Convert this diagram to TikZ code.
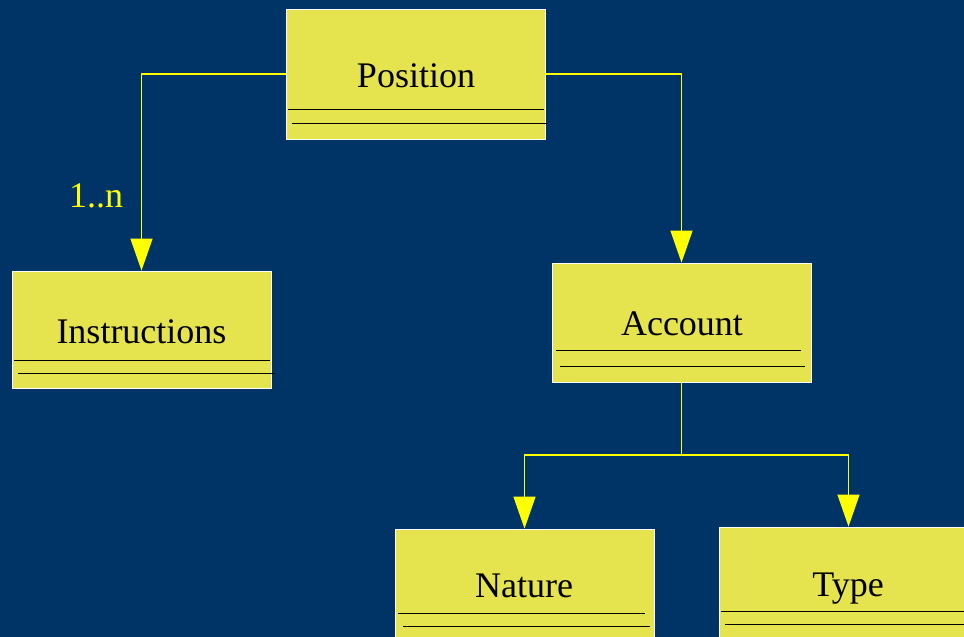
\documentclass[tikz,border=0pt]{standalone}
\usepackage{fontspec}
\newfontfamily\classfont{Liberation Serif}
\usetikzlibrary{arrows.meta}
\definecolor{navy}{RGB}{0,51,102}
\definecolor{classfill}{RGB}{230,228,78}
\definecolor{linkyellow}{RGB}{255,255,0}
\tikzset{
  classbox/.style={draw=white, line width=0.8pt, fill=classfill, minimum width=259pt, inner sep=0pt},
  classname/.style={anchor=base, inner sep=0pt, font=\classfont\fontsize{36}{40}\selectfont},
  sep/.style={black, line width=1pt},
  link/.style={linkyellow, line width=1.2pt, -{Triangle[width=22pt,length=32pt]}},
}

\begin{document}
\begin{tikzpicture}[x=1pt,y=-1pt]
    \useasboundingbox (0,0) rectangle (964,637);
    \fill[navy] (0,0) rectangle (964,637);
    \clip (0,0) rectangle (964,637);
    % classes
    \node[classbox, minimum height=130pt] (pos) at (415.5,74) {};
    \node[classbox, minimum height=117pt] (instr) at (141.5,329.5) {};
    \node[classbox, minimum height=119pt] (acct) at (681.5,322.5) {};
    \node[classbox, minimum height=119pt] (nature) at (524.5,588.5) {};
    \node[classbox, minimum height=119pt] (type) at (848.5,586.5) {};
    \node[classname] (pos-name) at (416,87) {Position};
    \node[classname] (instr-name) at (141.5,343) {Instructions};
    \node[classname] (acct-name) at (682,335) {Account};
    \node[classname] (nature-name) at (524,597) {Nature};
    \node[classname] (type-name) at (848,596) {Type};
    % compartments
    \draw[sep] (288,109) -- (544,109) (292,123) -- (548,123);
    \draw[sep] (14,360) -- (270,360) (18,373) -- (275,373);
    \draw[sep] (556,350) -- (801,350) (560,366) -- (805,366);
    \draw[sep] (398,613) -- (645,613) (403,626) -- (650,626);
    \draw[sep] (721,611) -- (968,611) (725,624) -- (972,624);
    % associations
    \draw[link] (pos.west) -| (instr.north);
    \draw[link] (pos.east) -| (acct.north);
    \coordinate (fork) at (acct.south |- 0,455);
    \draw[link] (acct.south) -- (fork) -| (nature.north);
    \draw[link] (fork) -| (type.north);
    \node[classname, text=linkyellow] (mult) at (96,207) {1..n};
\end{tikzpicture}
\end{document}
